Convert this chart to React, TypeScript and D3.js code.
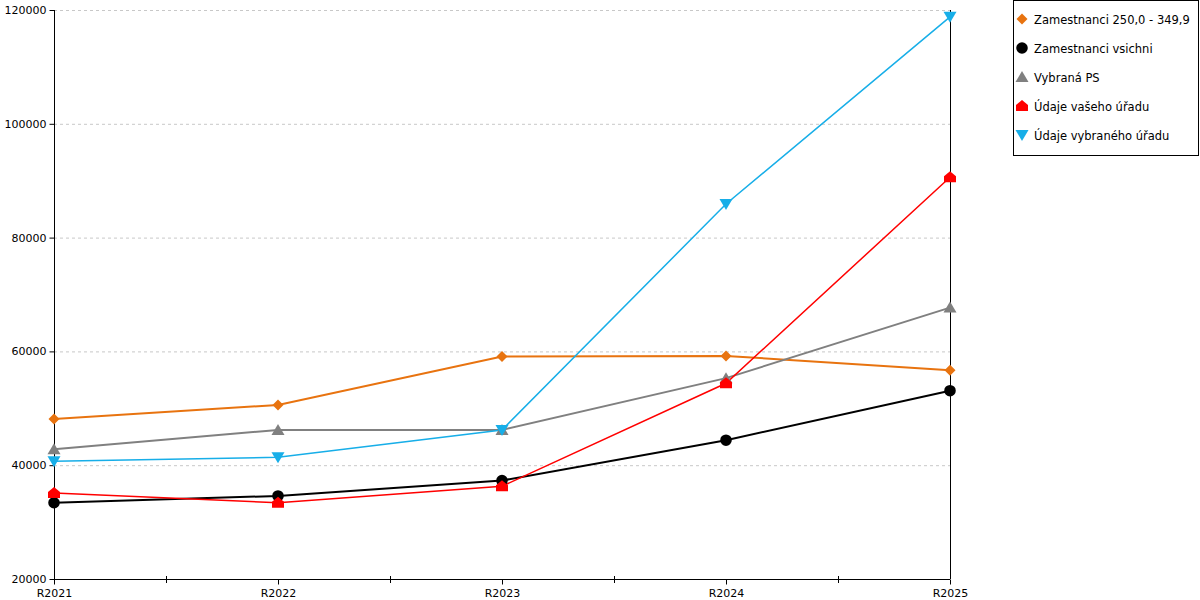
import { useEffect, useRef } from 'react';
import * as d3 from 'd3';

const categories = ['R2021', 'R2022', 'R2023', 'R2024', 'R2025'];
const yTicks = [20000, 40000, 60000, 80000, 100000, 120000];

const zamestnanci250 = [48100, 50600, 59100, 59200, 56700];
const zamestnanciVsichni = [33400, 34600, 37300, 44400, 53100];
const vybranaPS = [42800, 46200, 46200, 55300, 67700];
const udajeVaseho = [35100, 33400, 36300, 54400, 90600];
const udajeVybraneho = [40700, 41400, 46200, 85900, 118800];

const seriesNames = [
  'Zamestnanci 250,0 - 349,9',
  'Zamestnanci vsichni',
  'Vybraná PS',
  'Údaje vašeho úřadu',
  'Údaje vybraného úřadu',
];
const seriesColors = ['#E8730F', '#000000', '#808080', '#FF0000', '#17AEE8'];
const seriesWidths = [2, 2, 2, 1.5, 1.5];
const seriesShapes = ['diamond', 'circle', 'up', 'house', 'down'];

function markerPath(shape: string) {
  switch (shape) {
    case 'diamond':
      return 'M0,-5.5L5.5,0L0,5.5L-5.5,0Z';
    case 'circle':
      return d3.symbol(d3.symbolCircle, 105)() as string;
    case 'up':
      return 'M0,-6L6.5,5L-6.5,5Z';
    case 'house':
      return 'M0,-6L6,-1L6,5L-6,5L-6,-1Z';
    default:
      return 'M-6.5,-5L6.5,-5L0,6Z';
  }
}

export default function App() {
  const svgRef = useRef<SVGSVGElement>(null);

  useEffect(() => {
    if (!svgRef.current) return;
    const width = 1200;
    const height = 600;
    const margin = { top: 10, right: 250, bottom: 21, left: 54 };
    const font = 'DejaVu Sans, Verdana, sans-serif';

    const svg = d3.select(svgRef.current);
    svg.selectAll('*').remove();
    svg.attr('width', width).attr('height', height);

    const x = d3
      .scalePoint<string>()
      .domain(categories)
      .range([margin.left, width - margin.right]);
    const y = d3
      .scaleLinear()
      .domain([20000, 120000])
      .range([height - margin.bottom, margin.top]);

    // Grid
    svg
      .append('g')
      .selectAll('line')
      .data(yTicks.slice(1))
      .enter()
      .append('line')
      .attr('x1', margin.left)
      .attr('x2', width - margin.right)
      .attr('y1', (d) => y(d) + 0.5)
      .attr('y2', (d) => y(d) + 0.5)
      .attr('stroke', '#c8c8c8')
      .attr('stroke-dasharray', '3,3');

    // Y axis
    const yAxis = svg
      .append('g')
      .attr('transform', `translate(${margin.left + 0.5},0)`)
      .call(
        d3
          .axisLeft(y)
          .tickValues(yTicks)
          .tickSize(5)
          .tickPadding(3)
          .tickFormat((d) => String(d))
      );
    yAxis.select('.domain').attr('d', `M0,${y(20000)}V${y(120000)}`);
    yAxis.selectAll('text').attr('font-family', font).attr('font-size', 11).attr('fill', '#000');

    // Right line
    svg
      .append('line')
      .attr('x1', width - margin.right + 0.5)
      .attr('x2', width - margin.right + 0.5)
      .attr('y1', y(120000))
      .attr('y2', y(20000))
      .attr('stroke', '#000');

    // X axis
    const xAxis = svg
      .append('g')
      .attr('transform', `translate(0,${y(20000) + 0.5})`)
      .call(d3.axisBottom(x).tickSize(5).tickPadding(5));
    xAxis.select('.domain').attr('d', `M${margin.left},0H${width - margin.right}`);
    xAxis.selectAll('text').attr('font-family', font).attr('font-size', 11).attr('fill', '#000');

    // Minor ticks between categories
    const step = x.step();
    svg
      .append('g')
      .selectAll('line')
      .data(categories.slice(0, -1))
      .enter()
      .append('line')
      .attr('x1', (d) => (x(d) as number) + step / 2 + 0.5)
      .attr('x2', (d) => (x(d) as number) + step / 2 + 0.5)
      .attr('y1', y(20000) - 3)
      .attr('y2', y(20000) + 4)
      .attr('stroke', '#000');

    const allSeries = [zamestnanci250, zamestnanciVsichni, vybranaPS, udajeVaseho, udajeVybraneho];

    const line = d3
      .line<number>()
      .x((_, i) => x(categories[i]) as number)
      .y((d) => y(d));

    allSeries.forEach((values, si) => {
      svg
        .append('path')
        .datum(values)
        .attr('fill', 'none')
        .attr('stroke', seriesColors[si])
        .attr('stroke-width', seriesWidths[si])
        .attr('d', line);
    });

    allSeries.forEach((values, si) => {
      svg
        .append('g')
        .selectAll('path')
        .data(values)
        .enter()
        .append('path')
        .attr('transform', (d, i) => `translate(${x(categories[i])},${y(d)})`)
        .attr('d', markerPath(seriesShapes[si]))
        .attr('fill', seriesColors[si]);
    });

    // Legend
    const legend = svg.append('g');
    legend
      .append('rect')
      .attr('x', 1013.5)
      .attr('y', 0.5)
      .attr('width', 185)
      .attr('height', 155)
      .attr('fill', 'white')
      .attr('stroke', '#000');

    const items = legend
      .selectAll('g.item')
      .data(seriesNames)
      .enter()
      .append('g')
      .attr('class', 'item')
      .attr('transform', (_, i) => `translate(1022,${19 + i * 29})`);
    items
      .append('path')
      .attr('d', (_, i) => markerPath(seriesShapes[i]))
      .attr('fill', (_, i) => seriesColors[i]);
    items
      .append('text')
      .attr('x', 12)
      .attr('y', 4.5)
      .attr('font-family', font)
      .attr('font-size', 11.5)
      .attr('fill', '#000')
      .text((d) => d);
  }, []);

  return (
    <svg ref={svgRef} style={{ position: 'fixed', left: 0, top: 0, background: 'white' }} />
  );
}
